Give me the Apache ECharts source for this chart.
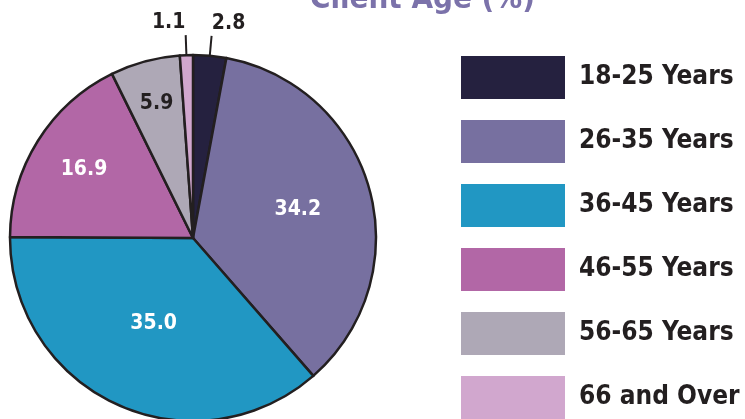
<!DOCTYPE html>
<html>
<head>
<meta charset="utf-8">
<script src="https://cdn.jsdelivr.net/npm/echarts@6/dist/echarts.min.js"></script>
<style>
  html, body { margin: 0; padding: 0; background: #fff; }
  #chart { width: 745px; height: 419px; }
</style>
</head>
<body>
<div id="chart"></div>
<script>
// Client age shares (%), clockwise from 12 o'clock
let ageGroups = ["18-25 Years", "26-35 Years", "36-45 Years", "46-55 Years", "56-65 Years", "66 and Over"];
let shares = [2.8, 34.2, 35.0, 16.9, 5.9, 1.1];
let sliceColors = ["#25213f", "#7770a0", "#2197c3", "#b267a6", "#aea8b6", "#d1a7ce"];
let outsideLabels = ["18-25 Years", "66 and Over"];
let darkLabels = ["56-65 Years"];
// how far out the inside labels sit (1 = echarts default, half the radius)
let labelPush = { "26-35 Years": 1.15, "36-45 Years": 1.0, "46-55 Years": 1.36, "56-65 Years": 1.47 };

let fontCond = "'DejaVu Sans Condensed', 'Liberation Sans Narrow', sans-serif";
let pieCenter = [193, 238];

let chart = echarts.init(document.getElementById("chart"));

let pieData = [];
for (let i = 0; i < ageGroups.length; i++) {
  let name = ageGroups[i];
  let item = {
    name: name,
    value: shares[i],
    itemStyle: { color: sliceColors[i] },
  };
  if (outsideLabels.indexOf(name) >= 0) {
    item.label = { position: "outside", color: "#231f20" };
    item.labelLine = { show: true };
  } else {
    item.label = { position: "inside", color: darkLabels.indexOf(name) >= 0 ? "#231f20" : "#ffffff" };
    item.labelLine = { show: false };
  }
  pieData.push(item);
}

let option = {
  animation: false,
  title: {
    text: "Client Age (%)",
    left: 305,
    top: -21,
    textStyle: {
      color: "#7b72aa",
      fontSize: 31,
      fontWeight: "bold",
      fontFamily: fontCond,
    },
  },
  legend: {
    orient: "vertical",
    left: 461,
    top: 56,
    height: 380,
    padding: 0,
    itemWidth: 104,
    itemHeight: 43,
    itemGap: 21,
    icon: "rect",
    selectedMode: false,
    itemStyle: { borderWidth: 0 },
    textStyle: {
      color: "#231f20",
      fontSize: 26,
      lineHeight: 43,
      fontWeight: "bold",
      fontFamily: fontCond,
      padding: [0, 0, 0, 9],
    },
    data: ageGroups,
  },
  series: [
    {
      type: "pie",
      center: pieCenter,
      radius: 183,
      startAngle: 90,
      clockwise: true,
      avoidLabelOverlap: false,
      itemStyle: {
        borderColor: "#231f20",
        borderWidth: 2.5,
      },
      label: {
        show: true,
        formatter: function (p) { return p.value.toFixed(1); },
        fontSize: 21,
        fontWeight: "bold",
        fontFamily: fontCond,
      },
      labelLine: {
        length: 20,
        length2: 0,
        lineStyle: { color: "#231f20", width: 2 },
      },
      labelLayout: function (p) {
        let r = p.labelRect;
        let cx = r.x + r.width / 2;
        let cy = r.y + r.height / 2;
        let name = ageGroups[p.dataIndex];
        if (outsideLabels.indexOf(name) >= 0 && p.labelLinePoints) {
          let end = p.labelLinePoints[p.labelLinePoints.length - 1];
          let side = end[0] < pieCenter[0] ? -1 : 1;
          return {
            dx: end[0] + side * 17 - cx,
            dy: end[1] - r.height / 2 - 2 - cy,
          };
        }
        let k = labelPush[name] || 1;
        return {
          dx: (k - 1) * (cx - pieCenter[0]),
          dy: (k - 1) * (cy - pieCenter[1]),
        };
      },
      emphasis: { disabled: true },
      data: pieData,
    },
  ],
};

chart.setOption(option);
</script>
</body>
</html>
